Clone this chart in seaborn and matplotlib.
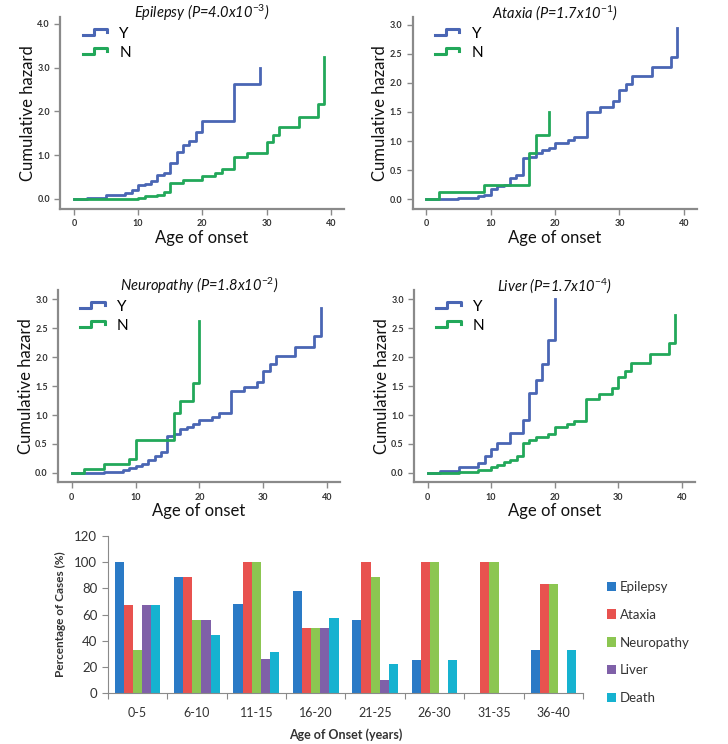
import numpy as np
import pandas as pd
import seaborn as sb
import matplotlib.pyplot as plt
from matplotlib.legend_handler import HandlerBase
from matplotlib.lines import Line2D

# cumulative hazard step data (age of onset, hazard) per panel, Y and N groups
epi_age_y = [0, 2, 5, 8, 9, 10, 11, 12, 13, 14, 15, 16, 17, 18, 19, 20, 25, 29]
epi_haz_y = [0, 0.02, 0.08, 0.13, 0.2, 0.32, 0.35, 0.42, 0.55, 0.6, 0.82, 1.08, 1.23, 1.32, 1.52, 1.77, 2.62, 3.0]
epi_age_n = [0, 10, 11, 13, 14, 15, 17, 20, 22, 23, 25, 27, 30, 31, 32, 35, 38, 39]
epi_haz_n = [0, 0.03, 0.07, 0.1, 0.15, 0.37, 0.43, 0.53, 0.6, 0.68, 0.96, 1.06, 1.3, 1.46, 1.65, 1.87, 2.16, 3.25]

atx_age_y = [0, 5, 8, 9, 10, 11, 12, 13, 14, 15, 16, 17, 18, 19, 20, 22, 23, 25, 27, 29, 30, 31, 32, 35, 38, 39]
atx_haz_y = [0, 0.02, 0.05, 0.08, 0.18, 0.22, 0.25, 0.37, 0.42, 0.7, 0.73, 0.8, 0.84, 0.88, 0.97, 1.02, 1.07,
             1.5, 1.58, 1.68, 1.87, 1.98, 2.12, 2.27, 2.45, 2.95]
atx_age_n = [0, 2, 9, 16, 17, 19]
atx_haz_n = [0, 0.12, 0.25, 0.8, 1.1, 1.5]

neu_age_y = [0, 5, 8, 9, 10, 11, 12, 13, 14, 15, 16, 17, 18, 19, 20, 22, 23, 25, 27, 29, 30, 31, 32, 35, 38, 39]
neu_haz_y = [0, 0.01, 0.05, 0.08, 0.12, 0.16, 0.22, 0.3, 0.36, 0.64, 0.67, 0.75, 0.79, 0.84, 0.92, 0.97, 1.03,
             1.41, 1.48, 1.57, 1.77, 1.88, 2.02, 2.18, 2.36, 2.85]
neu_age_n = [0, 2, 5, 9, 10, 16, 17, 19, 20]
neu_haz_n = [0, 0.07, 0.15, 0.24, 0.56, 1.03, 1.25, 1.55, 2.63]

liv_age_y = [0, 2, 5, 8, 9, 10, 11, 13, 15, 16, 17, 18, 19, 20]
liv_haz_y = [0, 0.04, 0.1, 0.17, 0.29, 0.42, 0.51, 0.69, 0.91, 1.38, 1.61, 1.89, 2.3, 3.0]
liv_age_n = [0, 5, 8, 10, 11, 12, 13, 14, 15, 16, 17, 19, 20, 22, 23, 25, 27, 29, 30, 31, 32, 35, 38, 39]
liv_haz_n = [0, 0.02, 0.05, 0.1, 0.14, 0.18, 0.23, 0.3, 0.51, 0.56, 0.62, 0.67, 0.8, 0.85, 0.9, 1.28, 1.37,
             1.46, 1.65, 1.76, 1.9, 2.06, 2.24, 2.73]

titles = ['Epilepsy (P=4.0x10$^{\\mathit{-3}}$)', 'Ataxia (P=1.7x10$^{\\mathit{-1}}$)',
          'Neuropathy (P=1.8x10$^{\\mathit{-2}}$)', 'Liver (P=1.7x10$^{\\mathit{-4}}$)']

# bar chart data
age_groups = ['0-5', '6-10', '11-15', '16-20', '21-25', '26-30', '31-35', '36-40']
conditions = ['Epilepsy', 'Ataxia', 'Neuropathy', 'Liver', 'Death']
epilepsy = [100, 89, 68, 78, 56, 25, 0, 33]
ataxia = [67, 89, 100, 50, 100, 100, 100, 83]
neuropathy = [33, 56, 100, 50, 89, 100, 100, 83]
liver = [67, 56, 26, 50, 10, 0, 0, 0]
death = [67, 44, 31, 57, 22, 25, 0, 33]

bar_colors = ['#2a7ac6', '#e8524f', '#8cc651', '#7f60a8', '#16b2d0']
line_colors = {'Y': '#4a66b4', 'N': '#22a85a'}

plt.rcParams['font.family'] = ['Lato', 'DejaVu Sans']
plt.rcParams['mathtext.fontset'] = 'custom'
plt.rcParams['mathtext.rm'] = 'Lato'
plt.rcParams['mathtext.it'] = 'Lato:italic'


class StepHandler(HandlerBase):
    # SPSS style little step symbol in the legend
    def create_artists(self, legend, orig_handle, xd, yd, w, h, fontsize, trans):
        xs = np.array([0, 0.45, 0.45, 1.0, 1.0]) * w - xd
        ys = np.array([0.25, 0.25, 0.85, 0.85, 0.55]) * h - yd
        ln = Line2D(xs, ys, color=orig_handle.get_color(), lw=2.2, transform=trans)
        return [ln]


fig = plt.figure(figsize=(7.28, 7.44), dpi=100)

panels = [
    (epi_age_y, epi_haz_y, epi_age_n, epi_haz_n, [0.083, 0.719, 0.389, 0.258], (-0.23, 4.15), np.arange(0, 4.1, 1.0)),
    (atx_age_y, atx_haz_y, atx_age_n, atx_haz_n, [0.567, 0.719, 0.390, 0.258], (-0.17, 3.13), np.arange(0, 3.1, 0.5)),
    (neu_age_y, neu_haz_y, neu_age_n, neu_haz_n, [0.080, 0.352, 0.387, 0.258], (-0.16, 3.16), np.arange(0, 3.1, 0.5)),
    (liv_age_y, liv_haz_y, liv_age_n, liv_haz_n, [0.569, 0.352, 0.385, 0.258], (-0.16, 3.16), np.arange(0, 3.1, 0.5)),
]

for i, (ay, hy, an, hn, pos, ylim, yt) in enumerate(panels):
    ax = fig.add_axes(pos)
    d = pd.DataFrame({'age': ay + an, 'haz': hy + hn,
                      'grp': ['Y'] * len(ay) + ['N'] * len(an)})
    sb.lineplot(data=d, x='age', y='haz', hue='grp', palette=line_colors,
                drawstyle='steps-post', lw=2, ax=ax, legend=False, estimator=None)
    ax.set_xlim(-2.1, 42)
    ax.set_ylim(*ylim)
    ax.set_xticks([0, 10, 20, 30, 40])
    ax.set_yticks(yt)
    ax.set_yticklabels(['%.1f' % v for v in yt])
    for s in ['top', 'right']:
        ax.spines[s].set_visible(False)
    for s in ['left', 'bottom']:
        ax.spines[s].set_color('#8a8a8a')
        ax.spines[s].set_linewidth(1.6)
    ax.tick_params(colors='#8a8a8a', labelcolor='#333333', labelsize=6.5, length=4, width=1)
    for lab in ax.get_xticklabels() + ax.get_yticklabels():
        lab.set_fontweight('bold')
    ax.set_xlabel('Age of onset', fontsize=12, color='#111111', labelpad=1)
    ax.set_ylabel('Cumulative hazard', fontsize=12, color='#111111', labelpad=1)
    ax.set_title(titles[i], fontsize=10.5, fontstyle='italic', color='#111111', y=0.995, pad=0)
    h_y = Line2D([], [], color=line_colors['Y'])
    h_n = Line2D([], [], color=line_colors['N'])
    ax.legend([h_y, h_n], ['Y', 'N'], handler_map={Line2D: StepHandler()}, loc='upper left',
              bbox_to_anchor=(0.03, 1.02), frameon=False, fontsize=11, handlelength=1.6,
              labelspacing=0.3, handletextpad=0.8)

# bar chart of percentage of cases
bar_df = pd.DataFrame({
    'age': age_groups * 5,
    'pct': epilepsy + ataxia + neuropathy + liver + death,
    'cond': sum([[c] * len(age_groups) for c in conditions], []),
})
axb = fig.add_axes([0.148, 0.0685, 0.653, 0.211])
sb.barplot(data=bar_df, x='age', y='pct', hue='cond', palette=bar_colors, saturation=1,
           width=0.77, ax=axb, errorbar=None)
axb.set_xlim(-0.5, 7.5)
axb.set_ylim(0, 120)
axb.set_yticks(range(0, 121, 20))
axb.set_xticks(np.arange(-0.5, 8, 1))
axb.set_xticklabels([])
axb.set_xticks(range(8), minor=True)
axb.set_xticklabels(age_groups, minor=True)
axb.tick_params(axis='x', which='minor', length=0, pad=10, labelsize=9, labelcolor='#333333')
axb.tick_params(axis='x', which='major', length=4, color='#8a8a8a')
axb.tick_params(axis='y', length=4, color='#8a8a8a', labelsize=9.5, labelcolor='#333333')
for s in ['top', 'right']:
    axb.spines[s].set_visible(False)
for s in ['left', 'bottom']:
    axb.spines[s].set_color('#8a8a8a')
axb.set_xlabel('Age of Onset (years)', fontsize=9, fontweight='bold', color='#333333', labelpad=7)
axb.set_ylabel('Percentage of Cases (%)', fontsize=8.5, fontweight='bold', color='#333333', labelpad=6)
hd, lb = axb.get_legend_handles_labels()
axb.legend(hd, lb, loc='upper left', bbox_to_anchor=(1.025, 0.79), frameon=False, fontsize=9.5,
           handlelength=0.7, handleheight=0.7, handletextpad=0.3, labelspacing=1.2, labelcolor='#333333')

plt.savefig('out.png', dpi=100)
